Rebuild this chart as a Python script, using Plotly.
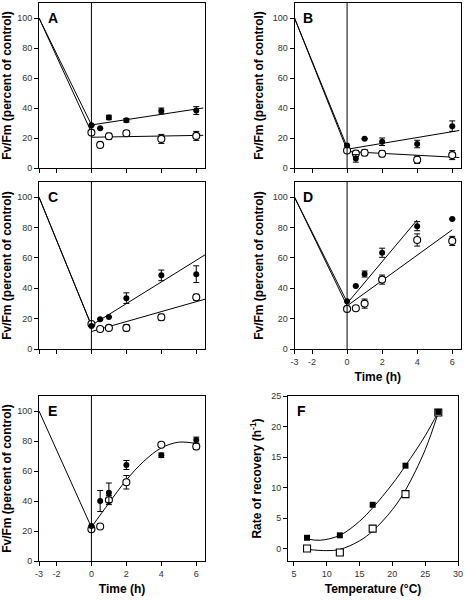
import plotly.graph_objects as go

# ---------------- data ----------------
time_h = [0, 0.5, 1, 2, 4, 6]
pre_time = [-3, 0]
control = 100

A_closed = [28.5, 26.5, 33.7, 31.8, 38.0, 38.3]
A_closed_err = [0, 0, 1.5, 1.2, 2.0, 2.6]
A_open = [23.6, 15.4, 21.2, 23.2, 19.4, 21.4]
A_open_err = [0, 0, 2.0, 1.5, 3.0, 3.0]
A_pre_end = [28.8, 23.8]
A_fit_x = [0, 6.4]
A_closed_fit = [28.7, 40.0]
A_open_fit = [20.5, 21.8]

B_closed = [15.0, 6.4, 19.5, 17.5, 16.0, 27.9]
B_closed_err = [0, 2.5, 0, 2.5, 2.5, 3.5]
B_open = [11.7, 9.7, 10.2, 9.5, 5.5, 8.6]
B_open_err = [0, 2.0, 2.0, 2.0, 2.5, 3.0]
B_pre_end = [14.0, 12.0]
B_fit_x = [0, 6.4]
B_closed_fit = [12.5, 25.0]
B_open_fit = [11.0, 7.0]

C_closed = [15.2, 19.6, 21.1, 33.5, 48.5, 49.3]
C_closed_err = [0, 0, 0, 3.5, 3.5, 5.5]
C_open = [16.5, 13.2, 13.9, 13.9, 20.9, 34.1]
C_open_err = [0, 0, 0, 2.0, 2.0, 2.0]
C_pre_end = [15.5, 15.5]
C_fit_x = [0, 6.5]
C_closed_fit = [15.6, 62.0]
C_open_fit = [11.5, 32.8]

D_closed = [31.5, 41.5, 49.4, 63.4, 80.9, 85.6]
D_closed_err = [0, 0, 2.0, 3.0, 3.0, 0]
D_open = [26.4, 26.8, 29.9, 45.7, 71.8, 71.2]
D_open_err = [0, 0, 3.0, 3.0, 4.0, 3.0]
D_pre_end = [31.0, 28.5]
D_closed_fit_x = [0, 4]
D_closed_fit = [30.0, 85.0]
D_open_fit_x = [0, 6]
D_open_fit = [28.4, 78.5]

E_closed = [23.4, 40.0, 45.5, 64.0, 70.5, 80.6]
E_closed_err = [0, 7.0, 6.5, 3.0, 1.5, 2.0]
E_open = [21.2, 23.0, 40.6, 52.5, 77.5, 76.3]
E_open_err = [0, 0, 3.0, 4.5, 0, 2.0]
E_pre_end = [22.5]
E_curve_x = [0, 1, 2, 3, 4, 5, 6]
E_curve_y = [22.5, 38.6, 54.0, 66.5, 75.4, 79.2, 78.3]

temp_c = [7, 12, 17, 22, 27]
F_closed = [1.8, 2.2, 7.2, 13.6, 22.4]
F_open = [0.05, -0.6, 3.3, 8.95, 22.3]
F_closed_curve_x = [7, 9, 12, 15, 17, 20, 22, 25, 27]
F_closed_curve_y = [1.6, 1.4, 2.2, 4.5, 6.7, 10.6, 13.6, 18.5, 22.4]
F_open_curve_x = [7, 10, 12, 15, 17, 20, 22, 25, 27]
F_open_curve_y = [-0.1, -0.3, -0.1, 1.3, 2.9, 6.4, 9.6, 16.2, 22.3]

time_ticks = [-3, -2, 0, 2, 4, 6]
time_tick_text = ["-3", "-2", "0", "2", "4", "6"]
fv_ticks = [0, 20, 40, 60, 80, 100]
temp_ticks = [5, 10, 15, 20, 25, 30]
rate_ticks = [0, 5, 10, 15, 20, 25]

FONT = "Liberation Sans, Arial, sans-serif"
W, H = 465, 600

fig = go.Figure()

def px_dom(a, b, total):
    return [a / total, b / total]

def py_dom(top, bottom):
    return [1 - bottom / H, 1 - top / H]

LEFT = px_dom(39, 205, W)
RIGHT = px_dom(294.5, 461, W)
FCOL = px_dom(288, 458, W)
ROW1 = py_dom(3, 168)
ROW2 = py_dom(182, 349)
ROW3 = py_dom(396, 561)

def axis_common():
    return dict(showline=True, linecolor="black", linewidth=1, mirror=True,
                ticks="outside", ticklen=4, tickcolor="black", tickwidth=1,
                showgrid=False, zeroline=False, automargin=False,
                tickfont=dict(family=FONT, size=9, color="#333"))

line_style = dict(color="black", width=1)

def add_time_panel(i, xd, yd, letter, closed, cerr, opn, oerr, pre_end,
                   fits, show_xlabels):
    suf = "" if i == 1 else str(i)
    xa, ya = f"x{suf}", f"y{suf}"
    for e in pre_end:
        fig.add_trace(go.Scatter(x=pre_time, y=[control, e], mode="lines",
                                 line=line_style, xaxis=xa, yaxis=ya, showlegend=False))
    for fx, fy, shape in fits:
        fig.add_trace(go.Scatter(x=fx, y=fy, mode="lines",
                                 line=dict(color="black", width=1, shape=shape),
                                 xaxis=xa, yaxis=ya, showlegend=False))
    fig.add_trace(go.Scatter(x=time_h, y=opn, mode="markers",
                             error_y=dict(type="data", array=oerr, color="black",
                                          thickness=1, width=3),
                             marker=dict(symbol="circle", size=7, color="white",
                                         line=dict(color="black", width=1.1)),
                             xaxis=xa, yaxis=ya, showlegend=False))
    fig.add_trace(go.Scatter(x=time_h, y=closed, mode="markers",
                             error_y=dict(type="data", array=cerr, color="black",
                                          thickness=1, width=3),
                             marker=dict(symbol="circle", size=6, color="black"),
                             xaxis=xa, yaxis=ya, showlegend=False))
    xax = axis_common()
    xax.update(domain=xd, range=[-3, 6.5], tickvals=time_ticks, ticktext=time_tick_text,
               showticklabels=show_xlabels, anchor=ya)
    if show_xlabels:
        xax["title"] = dict(text="<b>Time (h)</b>", font=dict(family=FONT, size=12, color="black"),
                            standoff=6)
    yax = axis_common()
    yax.update(domain=yd, range=[0, 110], tickvals=fv_ticks, anchor=xa,
               title=dict(text="<b>Fv/Fm (percent of control)</b>",
                          font=dict(family=FONT, size=12, color="black"), standoff=6))
    fig.update_layout(**{f"xaxis{suf}": xax, f"yaxis{suf}": yax})
    fig.add_shape(type="line", xref=xa, yref=f"{ya} domain", x0=pre_time[1], x1=pre_time[1],
                  y0=0, y1=1, line=dict(color="black", width=1))
    fig.add_annotation(text=f"<b>{letter}</b>", xref=f"{xa} domain", yref=f"{ya} domain",
                       x=0.04, y=0.97, xanchor="left", yanchor="top", showarrow=False,
                       font=dict(family=FONT, size=14, color="black"))

add_time_panel(1, LEFT, ROW1, "A", A_closed, A_closed_err, A_open, A_open_err, A_pre_end,
               [(A_fit_x, A_closed_fit, "linear"), (A_fit_x, A_open_fit, "linear")], False)
add_time_panel(2, RIGHT, ROW1, "B", B_closed, B_closed_err, B_open, B_open_err, B_pre_end,
               [(B_fit_x, B_closed_fit, "linear"), (B_fit_x, B_open_fit, "linear")], False)
add_time_panel(3, LEFT, ROW2, "C", C_closed, C_closed_err, C_open, C_open_err, C_pre_end,
               [(C_fit_x, C_closed_fit, "linear"), (C_fit_x, C_open_fit, "linear")], False)
add_time_panel(4, RIGHT, ROW2, "D", D_closed, D_closed_err, D_open, D_open_err, D_pre_end,
               [(D_closed_fit_x, D_closed_fit, "linear"), (D_open_fit_x, D_open_fit, "linear")], True)
add_time_panel(5, LEFT, ROW3, "E", E_closed, E_closed_err, E_open, E_open_err, E_pre_end,
               [(E_curve_x, E_curve_y, "spline")], True)

# Panel F
fig.add_trace(go.Scatter(x=F_closed_curve_x, y=F_closed_curve_y, mode="lines",
                         line=dict(color="black", width=1, shape="spline"),
                         xaxis="x6", yaxis="y6", showlegend=False))
fig.add_trace(go.Scatter(x=F_open_curve_x, y=F_open_curve_y, mode="lines",
                         line=dict(color="black", width=1, shape="spline"),
                         xaxis="x6", yaxis="y6", showlegend=False))
fig.add_trace(go.Scatter(x=temp_c, y=F_open, mode="markers",
                         marker=dict(symbol="square", size=7, color="white",
                                     line=dict(color="black", width=1.1)),
                         xaxis="x6", yaxis="y6", showlegend=False))
fig.add_trace(go.Scatter(x=temp_c, y=F_closed, mode="markers",
                         marker=dict(symbol="square", size=6, color="black"),
                         xaxis="x6", yaxis="y6", showlegend=False))
xf = axis_common()
xf.update(domain=FCOL, range=[4.1, 30], tickvals=temp_ticks, anchor="y6",
          title=dict(text="<b>Temperature (°C)</b>", font=dict(family=FONT, size=12, color="black"),
                     standoff=6))
yf = axis_common()
yf.update(domain=ROW3, range=[-2, 25], tickvals=rate_ticks, anchor="x6",
          title=dict(text="<b>Rate of recovery (h<sup>-1</sup>)</b>",
                     font=dict(family=FONT, size=12, color="black"), standoff=6))
fig.update_layout(xaxis6=xf, yaxis6=yf)
fig.add_annotation(text="<b>F</b>", xref="x6 domain", yref="y6 domain",
                   x=0.04, y=0.97, xanchor="left", yanchor="top", showarrow=False,
                   font=dict(family=FONT, size=14, color="black"))

fig.update_layout(width=W, height=H, margin=dict(l=0, r=0, t=0, b=0),
                  paper_bgcolor="white", plot_bgcolor="white",
                  font=dict(family=FONT, color="black"), showlegend=False)

fig.write_html("out.html", config={"displayModeBar": False},
               post_script="document.body.style.margin='0';document.body.style.overflow='hidden';")
